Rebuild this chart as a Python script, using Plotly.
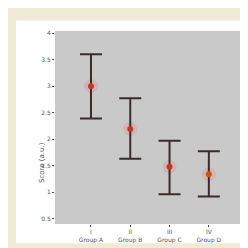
import plotly.graph_objects as go

categories = [1, 2, 3, 4]
tick_labels = ["I<br>Group A", "II<br>Group B", "III<br>Group C", "IV<br>Group D"]
means = [3.0, 2.19, 1.48, 1.34]
upper = [3.6, 2.77, 1.97, 1.77]
lower = [2.39, 1.63, 0.96, 0.92]
dot_colors = ["#c0392b", "#c0392b", "#c0392b", "#d35400"]
y_ticks = [0.5, 1, 1.5, 2, 2.5, 3, 3.5, 4]

err_plus = [u - m for u, m in zip(upper, means)]
err_minus = [m - l for m, l in zip(means, lower)]

fig = go.Figure()
fig.add_trace(go.Scatter(
    x=categories, y=means, mode="markers",
    marker=dict(size=14, color="rgba(240,120,130,0.25)"),
    hoverinfo="skip", showlegend=False))
fig.add_trace(go.Scatter(
    x=categories, y=means, mode="markers",
    marker=dict(size=6, color=dot_colors),
    error_y=dict(type="data", symmetric=False, array=err_plus, arrayminus=err_minus,
                 color="#3b2b2b", thickness=2, width=11),
    showlegend=False))

fig.add_shape(type="rect", xref="paper", yref="paper",
              x0=-0.207, x1=1.037, y0=-0.0995, y1=1.055,
              fillcolor="white", line_width=0, layer="below")
fig.add_shape(type="rect", xref="paper", yref="paper",
              x0=0, x1=1, y0=0, y1=1,
              fillcolor="#c9c9c9", line_width=0, layer="below")

fig.add_annotation(text="Score (a.u.)", xref="paper", yref="paper",
                   x=-0.1, y=0.2, textangle=-90, showarrow=False,
                   font=dict(size=7, color="#555"))

fig.update_layout(
    width=248, height=248,
    margin=dict(l=47, r=13, t=23, b=24),
    paper_bgcolor="#efebd6", plot_bgcolor="#c9c9c9",
    font=dict(family="DejaVu Sans", size=6, color="#555"),
    xaxis=dict(range=[0.084, 4.87], tickvals=categories, ticktext=tick_labels,
               showgrid=False, zeroline=False, ticks="outside", ticklen=2),
    yaxis=dict(range=[0.4, 4.04], tickvals=y_ticks, showgrid=False, zeroline=False,
               ticks="outside", ticklen=2),
)
fig.write_html("out.html")
